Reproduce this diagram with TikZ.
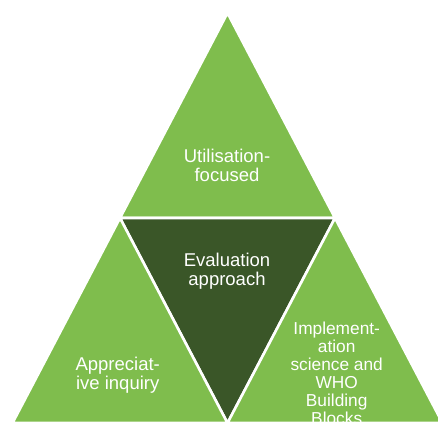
\documentclass[tikz,border=0pt]{standalone}
\usepackage{fontspec}
\setmainfont{Liberation Sans}
\definecolor{lightg}{RGB}{127,189,77}
\definecolor{darkg}{RGB}{58,86,40}
\begin{document}
\begin{tikzpicture}[x=1bp,y=-1bp,
  tri/.style={fill=lightg, draw=white, line width=2.6bp},
  mid/.style={fill=darkg, draw=white, line width=2.6bp},
  lbl/.style={text=white, align=center, inner sep=0pt, anchor=center,
    font=\fontsize{18.5bp}{19bp}\selectfont},
  lblsmall/.style={lbl, font=\fontsize{17.3bp}{18bp}\selectfont}]
\useasboundingbox (0,0) rectangle (438,421);
\clip (0,0) rectangle (438,421);
\coordinate (A) at (227.5,13);
\coordinate (B) at (120,218);
\coordinate (C) at (335,218);
\coordinate (D) at (12.5,423);
\coordinate (E) at (227.5,423);
\coordinate (F) at (442.5,423);
\path[tri] (A) -- (B) -- (C) -- cycle;
\path[mid] (B) -- (C) -- (E) -- cycle;
\path[tri] (B) -- (D) -- (E) -- cycle;
\path[tri] (C) -- (E) -- (F) -- cycle;
\node[lbl] (util) at (227,165.5) {Utilisation-\\focused};
\node[lbl] (eval) at (227,271.4) {Evaluation\\approach};
\node[lbl] (appr) at (117.7,374.9) {Appreciat-\\ive inquiry};
\node[lblsmall] (impl) at (336.7,373) {Implement-\\ation\\science and\\WHO\\Building\\Blocks};
\end{tikzpicture}
\end{document}
